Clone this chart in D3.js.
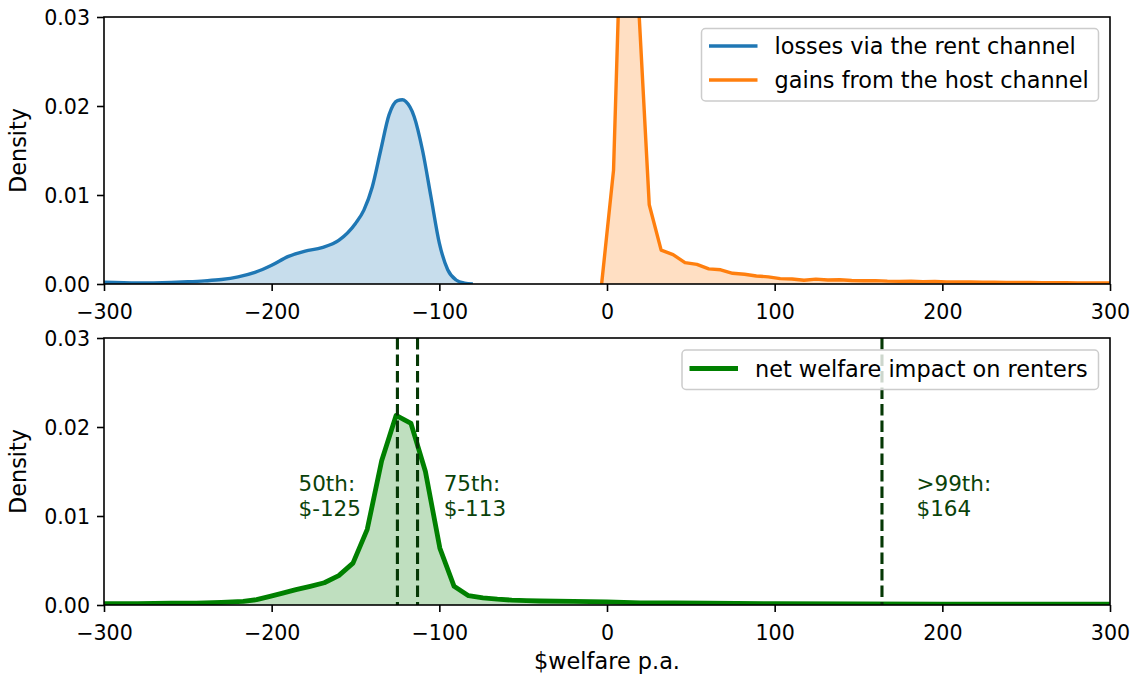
<!DOCTYPE html>
<html><head><meta charset="utf-8">
<script src="https://cdn.jsdelivr.net/npm/d3@7"></script>
<style>body{margin:0;background:#fff} svg{display:block} text{font-family:"DejaVu Sans",sans-serif}</style>
</head><body><svg id="c" width="1134" height="674"></svg>
<script>
// ---------- data ----------
const xTicks = [-300, -200, -100, 0, 100, 200, 300];
const xTickLabels = ["\u2212300", "\u2212200", "\u2212100", "0", "100", "200", "300"];
const yTicks = [0, 0.01, 0.02, 0.03];
const yTickLabels = ["0.00", "0.01", "0.02", "0.03"];

// losses via the rent channel (smooth KDE)
const rentX = [-300, -280, -260, -250, -240, -230, -220, -210, -200, -190, -180, -170, -160, -150, -145, -140, -135, -130, -125, -122, -120, -115, -110, -105, -100, -95, -90, -85, -80];
const rentY = [0.0002, 0.00012, 0.00018, 0.00025, 0.00035, 0.0005, 0.0008, 0.0013, 0.0021, 0.0031, 0.0037, 0.0041, 0.0049, 0.0068, 0.0083, 0.0109, 0.0150, 0.0190, 0.0206, 0.0207, 0.0205, 0.0188, 0.0150, 0.0098, 0.0046, 0.0016, 0.00045, 0.0001, 0];

// gains from the host channel (binned)
const hostX = [-3.2, 3.9, 11.0, 18.1, 25.2, 32.3, 39.4, 46.5, 53.6, 60.7, 67.8, 74.9, 82.0, 89.1, 96.2, 103.3, 110.4, 117.5, 124.6, 131.7, 138.8, 145.9, 153.0, 160.1, 167.2, 174.3, 181.4, 188.5, 195.6, 202.7, 209.8, 216.9, 224.0, 231.1, 238.2, 245.3, 252.4, 259.5, 266.6, 273.7, 280.8, 287.9, 295.0, 302.1];
const hostY = [0, 0.0128, 0.057, 0.034, 0.0089, 0.0038, 0.0033, 0.0024, 0.0022, 0.0017, 0.0016, 0.0012, 0.0011, 0.0009, 0.0008, 0.0006, 0.00056, 0.00042, 0.00055, 0.00045, 0.00048, 0.0004, 0.00036, 0.00038, 0.00032, 0.0003, 0.00031, 0.00027, 0.00028, 0.00024, 0.00022, 0.00023, 0.0002, 0.00021, 0.00018, 0.00017, 0.00018, 0.00015, 0.00014, 0.00015, 0.00013, 0.00012, 0.00012, 0.0001];

// net welfare impact on renters
const netX = [-300, -280, -260, -245, -230, -217, -209, -201, -194, -185.5, -177, -168.6, -160, -151.5, -143, -134.4, -125.8, -116.9, -108.3, -99.7, -91.2, -82.6, -74, -65.4, -56.8, -48, -40, -20, 0, 20, 40, 60, 100, 150, 200, 250, 300];
const netY = [0.00015, 0.00015, 0.0002, 0.00022, 0.0003, 0.0004, 0.0006, 0.00097, 0.0013, 0.00172, 0.0021, 0.0025, 0.0033, 0.0047, 0.0085, 0.0162, 0.0213, 0.0204, 0.0150, 0.0064, 0.0021, 0.00105, 0.0008, 0.00065, 0.00055, 0.0005, 0.00045, 0.0004, 0.00035, 0.00025, 0.00025, 0.0002, 0.00015, 0.00012, 0.0001, 0.0001, 0.0001];

// percentile markers
const pctValues = [-125, -113, 164];
const pctNames = ["50th:", "75th:", ">99th:"];
const pctLabels = ["$-125", "$-113", "$164"];
const pctTextX = [-184, -97.4, 184.6];   // text anchor in data units
const pctTextY = 0.01;

// ---------- layout ----------
const svg = d3.select("#c");
const L = 104, R = 1110;
const panels = [{ top: 17, bottom: 284 }, { top: 338, bottom: 605 }];
const x = d3.scaleLinear().domain([-300, 300]).range([L, R]);
const FT = 20.6, FL = 22.4;
const defs = svg.append("defs");

function makePanel(i) {
  const p = panels[i];
  const y = d3.scaleLinear().domain([0, 0.03]).range([p.bottom, p.top]);
  defs.append("clipPath").attr("id", "clip" + i).append("rect")
    .attr("x", L).attr("y", p.top).attr("width", R - L).attr("height", p.bottom - p.top);
  const g = svg.append("g");
  const plot = g.append("g").attr("clip-path", `url(#clip${i})`);
  const xa = g.append("g").attr("transform", `translate(0,${p.bottom})`)
    .call(d3.axisBottom(x).tickValues(xTicks).tickSize(7).tickPadding(5)
      .tickFormat((d, k) => xTickLabels[k]));
  const ya = g.append("g").attr("transform", `translate(${L},0)`)
    .call(d3.axisLeft(y).tickValues(yTicks).tickSize(7).tickPadding(7)
      .tickFormat((d, k) => yTickLabels[k]));
  [xa, ya].forEach(a => {
    a.select(".domain").remove();
    a.selectAll(".tick line").attr("stroke", "#000").attr("stroke-width", 1.6);
    a.selectAll(".tick text").attr("font-size", FT).attr("fill", "#000")
      .attr("font-family", "DejaVu Sans");
  });
  xa.selectAll(".tick text").attr("dy", null).attr("y", 35);
  ya.selectAll(".tick text").attr("dy", "0.36em");
  g.append("text").attr("transform", `translate(18,${(p.top + p.bottom) / 2}) rotate(-90)`)
    .attr("text-anchor", "middle").attr("dominant-baseline", "central")
    .attr("font-size", FL).text("Density");
  return { g, plot, y, p };
}

function drawSeries(panel, xs, ys, color, lw, curve) {
  const pts = xs.map((v, k) => [v, ys[k]]);
  const area = d3.area().x(d => x(d[0])).y0(panel.y(0)).y1(d => panel.y(d[1])).curve(curve);
  const line = d3.line().x(d => x(d[0])).y(d => panel.y(d[1])).curve(curve);
  panel.plot.append("path").datum(pts).attr("d", area).attr("fill", color).attr("fill-opacity", 0.25);
  panel.plot.append("path").datum(pts).attr("d", line).attr("fill", "none")
    .attr("stroke", color).attr("stroke-width", lw).attr("stroke-linejoin", "round");
}

function frame(panel) {
  panel.g.append("rect").attr("x", L).attr("y", panel.p.top)
    .attr("width", R - L).attr("height", panel.p.bottom - panel.p.top)
    .attr("fill", "none").attr("stroke", "#000").attr("stroke-width", 1.6);
}

function legend(panel, x0, y0, w, h, items) {
  const lg = panel.g.append("g");
  lg.append("rect").attr("x", x0).attr("y", y0).attr("width", w).attr("height", h)
    .attr("rx", 4).attr("fill", "#fff").attr("fill-opacity", 0.8)
    .attr("stroke", "#cccccc").attr("stroke-width", 1.5);
  items.forEach(it => {
    const yy = it.y;
    lg.append("line").attr("x1", x0 + 7.5).attr("x2", x0 + 56).attr("y1", yy).attr("y2", yy)
      .attr("stroke", it.color).attr("stroke-width", it.lw);
    lg.append("text").attr("x", x0 + 73).attr("y", yy).attr("dy", "0.36em")
      .attr("font-size", FL).attr("fill", "#000").text(it.label);
  });
}

// ---------- top panel ----------
const topPanel = makePanel(0);
drawSeries(topPanel, rentX, rentY, "#1f77b4", 3.4, d3.curveMonotoneX);
drawSeries(topPanel, hostX, hostY, "#ff7f0e", 3.4, d3.curveLinear);
frame(topPanel);
legend(topPanel, 701.5, 28.5, 397, 72.5, [
  { label: "losses via the rent channel", color: "#1f77b4", lw: 3.4, y: 46 },
  { label: "gains from the host channel", color: "#ff7f0e", lw: 3.4, y: 80 }
]);

// ---------- bottom panel ----------
const botPanel = makePanel(1);
drawSeries(botPanel, netX, netY, "#008000", 4.8, d3.curveLinear);
pctValues.forEach(v => {
  botPanel.plot.append("line").attr("x1", x(v)).attr("x2", x(v))
    .attr("y1", botPanel.p.top).attr("y2", botPanel.p.bottom)
    .attr("stroke", "#053805").attr("stroke-width", 3.1).attr("stroke-dasharray", "11.5,5");
});
pctValues.forEach((v, k) => {
  const t = botPanel.g.append("text").attr("x", x(pctTextX[k])).attr("y", botPanel.y(pctTextY))
    .attr("font-size", 21.5).attr("fill", "#0a420a");
  t.append("tspan").attr("x", x(pctTextX[k])).attr("dy", -25).text(pctNames[k]);
  t.append("tspan").attr("x", x(pctTextX[k])).attr("dy", 25).text(pctLabels[k]);
});
frame(botPanel);
legend(botPanel, 682, 350, 416.5, 39.5, [
  { label: "net welfare impact on renters", color: "#008000", lw: 4.8, y: 368.5 }
]);

// x label
svg.append("text").attr("x", (L + R) / 2).attr("y", 669).attr("text-anchor", "middle")
  .attr("font-size", FL).text("$welfare p.a.");
</script></body></html>
